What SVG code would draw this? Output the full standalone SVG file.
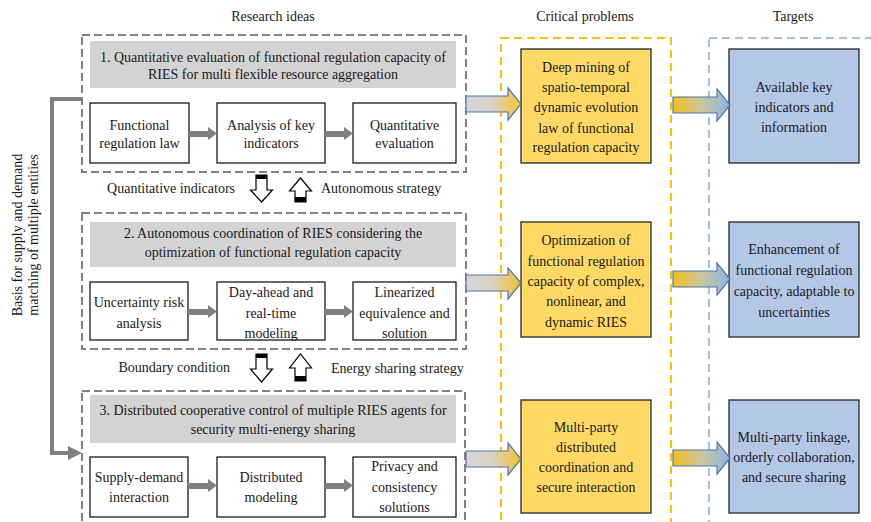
<svg xmlns="http://www.w3.org/2000/svg" width="871" height="522" viewBox="0 0 871 522" font-family="'Liberation Serif', 'DejaVu Serif', serif">
<defs>
<style>
text{font-family:'Liberation Serif','DejaVu Serif',serif;font-size:14px;fill:#1a1a1a;text-anchor:middle}
.grp{fill:none;stroke:#808080;stroke-width:2;stroke-dasharray:8 4}
.ttl{fill:#d3d3d3;stroke:none}
.sub{fill:#fff;stroke:#1a1a1a;stroke-width:1.3}
.gar{fill:#808080;stroke:none}
.ycol{fill:none;stroke:#ffc000;stroke-width:2;stroke-dasharray:8 5}
.bcol{fill:none;stroke:#9dc3e6;stroke-width:2;stroke-dasharray:8 5}
.ybox{fill:#ffd966;stroke:#262626;stroke-width:1.3}
.bbox{fill:#b4c7e7;stroke:#262626;stroke-width:1.3}
.ga1{fill:url(#g1);stroke:#4f74b8;stroke-width:1.2}
.ga2{fill:url(#g2);stroke:#4f74b8;stroke-width:1.2}
.hol{fill:#fff;stroke:#000;stroke-width:1.2}
.band{fill:#000}
.l{text-anchor:start}
.r{text-anchor:end}
</style>
<linearGradient id="g1" x1="0" y1="0" x2="1" y2="0">
<stop offset="0" stop-color="#d6d6da"/>
<stop offset="0.45" stop-color="#d8d3c8"/>
<stop offset="1" stop-color="#f6c12a"/>
</linearGradient>
<linearGradient id="g2" x1="0" y1="0" x2="1" y2="0">
<stop offset="0" stop-color="#f5bf18"/>
<stop offset="0.5" stop-color="#c9c6a0"/>
<stop offset="1" stop-color="#8eb6e6"/>
</linearGradient>
</defs>

<g id="headers">
<text x="273" y="21">Research ideas</text>
<text x="585" y="21">Critical problems</text>
<text x="793" y="21">Targets</text>
</g>

<g id="columns">
<rect class="ycol" x="501" y="38" width="170" height="500"/>
<rect class="bcol" x="709" y="38" width="200" height="500"/>
</g>

<g id="group1">
<rect class="grp" x="82" y="35" width="384" height="137"/>
<rect class="ttl" x="90" y="41" width="366" height="47"/>
<text x="273" y="62">1. Quantitative evaluation of functional regulation capacity of</text>
<text x="273" y="79">RIES for multi flexible resource aggregation</text>
</g>
<g id="n1a"><rect class="sub" x="90" y="103" width="99" height="60"/><text x="139.5" y="130">Functional</text><text x="139.5" y="148">regulation law</text></g>
<g id="n1b"><rect class="sub" x="217" y="103" width="108" height="60"/><text x="271" y="130">Analysis of key</text><text x="271" y="148">indicators</text></g>
<g id="n1c"><rect class="sub" x="353" y="103" width="103" height="60"/><text x="404.5" y="130">Quantitative</text><text x="404.5" y="148">evaluation</text></g>

<g id="group2">
<rect class="grp" x="82" y="213" width="384" height="136"/>
<rect class="ttl" x="90" y="222" width="366" height="45"/>
<text x="273" y="238">2. Autonomous coordination of RIES considering the</text>
<text x="273" y="257">optimization of functional regulation capacity</text>
</g>
<g id="n2a"><rect class="sub" x="90" y="282" width="98" height="58"/><text x="139" y="307">Uncertainty risk</text><text x="139" y="328">analysis</text></g>
<g id="n2b"><rect class="sub" x="217" y="282" width="108" height="58"/><text x="271" y="297">Day-ahead and</text><text x="271" y="318">real-time</text><text x="271" y="338">modeling</text></g>
<g id="n2c"><rect class="sub" x="353" y="282" width="103" height="58"/><text x="404.5" y="297">Linearized</text><text x="404.5" y="318">equivalence and</text><text x="404.5" y="338">solution</text></g>

<g id="group3">
<rect class="grp" x="82" y="391" width="383" height="150"/>
<rect class="ttl" x="90" y="395" width="366" height="48"/>
<text x="273" y="415">3. Distributed cooperative control of multiple RIES agents for</text>
<text x="273" y="434">security multi-energy sharing</text>
</g>
<g id="n3a"><rect class="sub" x="90" y="457" width="98" height="60"/><text x="139" y="482">Supply-demand</text><text x="139" y="502">interaction</text></g>
<g id="n3b"><rect class="sub" x="217" y="457" width="108" height="60"/><text x="271" y="482">Distributed</text><text x="271" y="502">modeling</text></g>
<g id="n3c"><rect class="sub" x="353" y="457" width="103" height="60"/><text x="404.5" y="471">Privacy and</text><text x="404.5" y="492">consistency</text><text x="404.5" y="512">solutions</text></g>

<g id="p1"><rect class="ybox" x="521" y="49" width="130" height="114"/>
<text x="586" y="72">Deep mining of</text><text x="586" y="92">spatio-temporal</text><text x="586" y="112">dynamic evolution</text><text x="586" y="133">law of functional</text><text x="586" y="152">regulation capacity</text></g>
<g id="p2"><rect class="ybox" x="521" y="222" width="130" height="115"/>
<text x="586" y="245">Optimization of</text><text x="586" y="266">functional regulation</text><text x="586" y="286">capacity of complex,</text><text x="586" y="306">nonlinear, and</text><text x="586" y="327">dynamic RIES</text></g>
<g id="p3"><rect class="ybox" x="521" y="400" width="130" height="113"/>
<text x="586" y="432">Multi-party</text><text x="586" y="452">distributed</text><text x="586" y="472">coordination and</text><text x="586" y="492">secure interaction</text></g>

<g id="t1"><rect class="bbox" x="729" y="49" width="130" height="114"/>
<text x="794" y="92">Available key</text><text x="794" y="112">indicators and</text><text x="794" y="132">information</text></g>
<g id="t2"><rect class="bbox" x="729" y="222" width="130" height="115"/>
<text x="794" y="254">Enhancement of</text><text x="794" y="275">functional regulation</text><text x="794" y="296">capacity, adaptable to</text><text x="794" y="317">uncertainties</text></g>
<g id="t3"><rect class="bbox" x="729" y="400" width="130" height="113"/>
<text x="794" y="442">Multi-party linkage,</text><text x="794" y="462">orderly collaboration,</text><text x="794" y="482">and secure sharing</text></g>

<g id="side-label">
<text transform="translate(22,235) rotate(-90)">Basis for supply and demand</text>
<text transform="translate(38,235) rotate(-90)">matching of multiple entities</text>
</g>

<g id="connectors">
<polygon class="gar" points="189,131 208,131 208,127 217,133.5 208,140 208,137 189,137"/>
<polygon class="gar" points="325,131 344,131 344,127 353,133.5 344,140 344,137 325,137"/>
<polygon class="gar" points="188,309 208,309 208,305 217,311.5 208,318 208,315 188,315"/>
<polygon class="gar" points="325,309 344,309 344,305 353,311.5 344,318 344,315 325,315"/>
<polygon class="gar" points="188,483 208,483 208,479 217,485.5 208,492 208,489 188,489"/>
<polygon class="gar" points="325,483 344,483 344,479 353,485.5 344,492 344,489 325,489"/>

<polyline points="82,99 52,99 52,453 70,453" fill="none" stroke="#808080" stroke-width="4"/>
<polygon class="gar" points="68,446 82,453 68,460"/>

<polygon class="hol" points="256,175 267,175 267,190 272.5,190 261.5,202 250.5,190 256,190"/>
<rect class="band" x="256" y="175" width="11" height="4"/>
<polygon class="hol" points="295,202 306,202 306,191 311.5,191 300.5,178 289.5,191 295,191"/>
<rect class="band" x="295" y="197" width="11" height="5"/>

<polygon class="hol" points="256,354 267,354 267,369 272.5,369 261.5,382 250.5,369 256,369"/>
<rect class="band" x="256" y="354" width="11" height="4"/>
<polygon class="hol" points="295,381 306,381 306,368 311.5,368 300.5,354 289.5,368 295,368"/>
<rect class="band" x="295" y="376" width="11" height="5"/>

<polygon class="ga1" points="466,96 508,96 508,88 521,104 508,120 508,112 466,112"/>
<polygon class="ga2" points="673,97 717,97 717,89 730,105 717,121 717,113 673,113"/>
<polygon class="ga1" points="466,275 508,275 508,268 521,283 508,299 508,291 466,291"/>
<polygon class="ga2" points="673,271 717,271 717,263 730,279 717,295 717,287 673,287"/>
<polygon class="ga1" points="466,451 508,451 508,443 521,459 508,475 508,467 466,467"/>
<polygon class="ga2" points="673,450 717,450 717,442 730,458 717,474 717,466 673,466"/>
</g>

<g id="link-labels">
<text class="r" x="235" y="193">Quantitative indicators</text>
<text class="l" x="321" y="193">Autonomous strategy</text>
<text class="r" x="230" y="372">Boundary condition</text>
<text class="l" x="331" y="373">Energy sharing strategy</text>
</g>
</svg>
